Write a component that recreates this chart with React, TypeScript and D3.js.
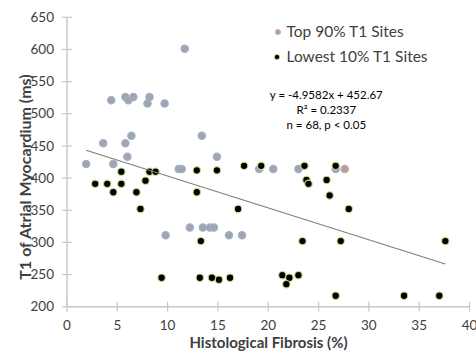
import React from "react";
import * as d3 from "d3";

// Top 90% T1 sites (gray)
const topFibrosis = [11.7, 4.4, 5.8, 6.1, 6.6, 8.2, 8.0, 9.7, 6.4, 13.4, 3.6, 5.8, 6.0, 14.9, 1.9, 4.6, 11.1, 11.4, 9.8, 12.2, 13.5, 14.2, 14.6, 16.1, 17.4, 19.1, 20.5, 23.0, 26.7];
const topT1 = [601, 521, 526, 521, 526, 526, 516, 516, 466, 466, 454, 454, 433, 433, 422, 422, 414, 414, 311, 323, 323, 323, 323, 311, 311, 414, 414, 414, 414];
// the one site drawn with a red outline
const flaggedFibrosis = [27.6];
const flaggedT1 = [414];

// Lowest 10% T1 sites (black)
const lowFibrosis = [5.4, 8.2, 8.8, 12.9, 2.8, 4.0, 5.4, 7.8, 4.6, 6.9, 12.9, 7.3, 9.4, 13.3, 13.2, 14.4, 15.1, 14.9, 16.2, 17.0, 17.6, 19.3, 23.6, 23.8, 24.0, 26.7, 25.8, 26.1, 28.0, 23.4, 27.2, 37.6, 21.4, 22.1, 23.0, 21.8, 26.7, 33.5, 37.0];
const lowT1 = [410, 410, 410, 412, 391, 391, 391, 396, 378, 378, 378, 352, 245, 302, 245, 245, 242, 412, 245, 352, 419, 419, 419, 397, 391, 419, 397, 373, 352, 302, 302, 302, 249, 245, 249, 235, 217, 217, 217];

const slope = -4.9582;
const intercept = 452.67;
const equationLines = ["y = -4.9582x + 452.67", "R² = 0.2337", "n = 68, p < 0.05"];

const xTicks = [0, 5, 10, 15, 20, 25, 30, 35, 40];
const yTicks = [200, 250, 300, 350, 400, 450, 500, 550, 600, 650];

const W = 476;
const H = 356;
const font = "Lato, 'Open Sans', sans-serif";
const textColor = "#404040";
const axisColor = "#c8c8c8";

export default function App() {
  const x = d3.scaleLinear().domain([0, 40]).range([67, 469.5]);
  const y = d3.scaleLinear().domain([200, 650]).range([306.7, 17.3]);

  const allX = [...topFibrosis, ...flaggedFibrosis, ...lowFibrosis];
  const [xMin, xMax] = d3.extent(allX) as [number, number];
  const fit = d3
    .line<number>()
    .x((d) => x(d))
    .y((d) => y(slope * d + intercept));

  const y0 = y.range()[0];
  const x0 = x.range()[0];

  return (
    <svg
      width={W}
      height={H}
      style={{ position: "absolute", left: 0, top: 0, background: "#fff" }}
      fontFamily={font}
    >
      {/* axes */}
      <line x1={x0} x2={x0} y1={y(650)} y2={y0} stroke={axisColor} strokeWidth={1.5} />
      <line x1={x0} x2={x(40)} y1={y0} y2={y0} stroke={axisColor} strokeWidth={1.5} />
      {yTicks.map((t) => (
        <g key={"y" + t}>
          <line x1={x0 - 5} x2={x0 + 5} y1={y(t)} y2={y(t)} stroke={axisColor} strokeWidth={1.2} />
          <text x={54} y={y(t)} dy="0.35em" textAnchor="end" fontSize={13.5} fill={textColor}>
            {t}
          </text>
        </g>
      ))}
      {xTicks.map((t) => (
        <g key={"x" + t}>
          <line x1={x(t)} x2={x(t)} y1={y0 - 5} y2={y0 + 5} stroke={axisColor} strokeWidth={1.2} />
          <text x={x(t)} y={330} textAnchor="middle" fontSize={13.5} fill={textColor}>
            {t}
          </text>
        </g>
      ))}

      <text
        transform={`translate(30.5, 177) rotate(-90)`}
        textAnchor="middle"
        fontSize={16}
        fontWeight="bold"
        fill={textColor}
      >
        T1 of Atrial Myocardium (ms)
      </text>
      <text x={268.5} y={348} textAnchor="middle" fontSize={15} fontWeight="bold" fill={textColor}>
        Histological Fibrosis (%)
      </text>

      {/* points */}
      {topFibrosis.map((f, i) => (
        <circle key={"t" + i} cx={x(f)} cy={y(topT1[i])} r={3.7} fill="#a5a5a5" stroke="#9bb0da" strokeWidth={1.1} />
      ))}
      {flaggedFibrosis.map((f, i) => (
        <circle key={"f" + i} cx={x(f)} cy={y(flaggedT1[i])} r={3.7} fill="#a5a5a5" stroke="#e49a9a" strokeWidth={1.1} />
      ))}
      {lowFibrosis.map((f, i) => (
        <circle key={"l" + i} cx={x(f)} cy={y(lowT1[i])} r={3.7} fill="#000" stroke="#c9dc8e" strokeWidth={1.1} />
      ))}

      {/* trend line */}
      <path d={fit([xMin, xMax]) || ""} fill="none" stroke="#7f7f7f" strokeWidth={1.1} />

      {/* legend */}
      <circle cx={278} cy={32} r={2.6} fill="#b0a5a5" stroke="#d9a0a0" strokeWidth={0.8} />
      <text x={286.5} y={36.5} fontSize={15.5} fill={textColor}>
        Top 90% T1 Sites
      </text>
      <circle cx={277} cy={57} r={2.6} fill="#000" stroke="#c9dc8e" strokeWidth={0.8} />
      <text x={286.5} y={62} fontSize={15.5} fill={textColor}>
        Lowest 10% T1 Sites
      </text>

      {/* regression text */}
      {equationLines.map((l, i) => (
        <text key={l} x={326.3} y={98.5 + i * 15.3} textAnchor="middle" fontSize={11.5} fill="#000">
          {l}
        </text>
      ))}
    </svg>
  );
}
